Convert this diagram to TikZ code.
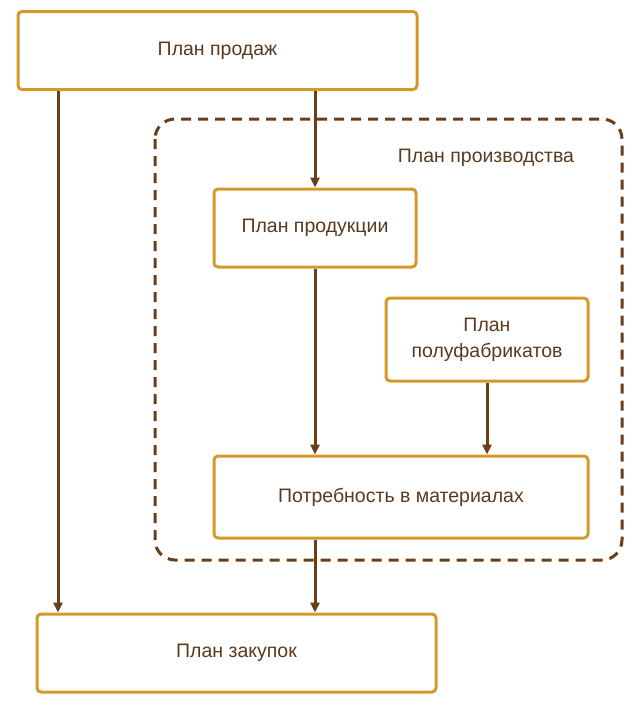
\documentclass[tikz,border=0pt]{standalone}
\usepackage{fontspec}
\setmainfont{Liberation Sans}
\usetikzlibrary{arrows.meta}
\definecolor{boxc}{HTML}{D4992C}
\definecolor{arrc}{HTML}{6B3E1A}
\definecolor{txtc}{HTML}{5A3A1E}
\begin{document}
\begin{tikzpicture}[x=1pt,y=-1pt,
  box/.style={draw=boxc,line width=3pt,rounded corners=4pt,fill=white,
    text=txtc,font=\fontsize{19.5}{23}\selectfont,align=center,inner sep=0pt},
  arr/.style={draw=arrc,line width=3pt,-{Triangle[length=10pt,width=9pt]}},
  grp/.style={draw=arrc,line width=3pt,dash pattern=on 10pt off 7pt,rounded corners=20pt}]
\useasboundingbox (0,0) rectangle (632,713);
\draw[grp] (155,119) rectangle (622,560);
\node[text=txtc,font=\fontsize{19.5}{23}\selectfont] (lbl) at (486,158) {План производства};
\node[box,minimum width=399pt,minimum height=78pt] (sales) at (217.5,50.5) {План продаж};
\node[box,minimum width=202pt,minimum height=78pt] (prod) at (315,228) {План продукции};
\node[box,minimum width=202pt,minimum height=83pt] (semi) at (487,339.5) {План\\[3pt]полуфабрикатов};
\node[box,minimum width=374pt,minimum height=82pt] (need) at (401,497) {Потребность в материалах};
\node[box,minimum width=399pt,minimum height=78pt] (buy) at (236.5,653) {План закупок};
\coordinate (xl) at (58,0);
\draw[arr] (sales.south -| xl) -- (buy.north -| xl);
\draw[arr] (sales.south -| prod.north) -- (prod.north);
\draw[arr] (prod.south) -- (need.north -| prod.south);
\draw[arr] (semi.south) -- (need.north -| semi.south);
\draw[arr] (need.south -| prod.south) -- (buy.north -| prod.south);
\end{tikzpicture}
\end{document}
